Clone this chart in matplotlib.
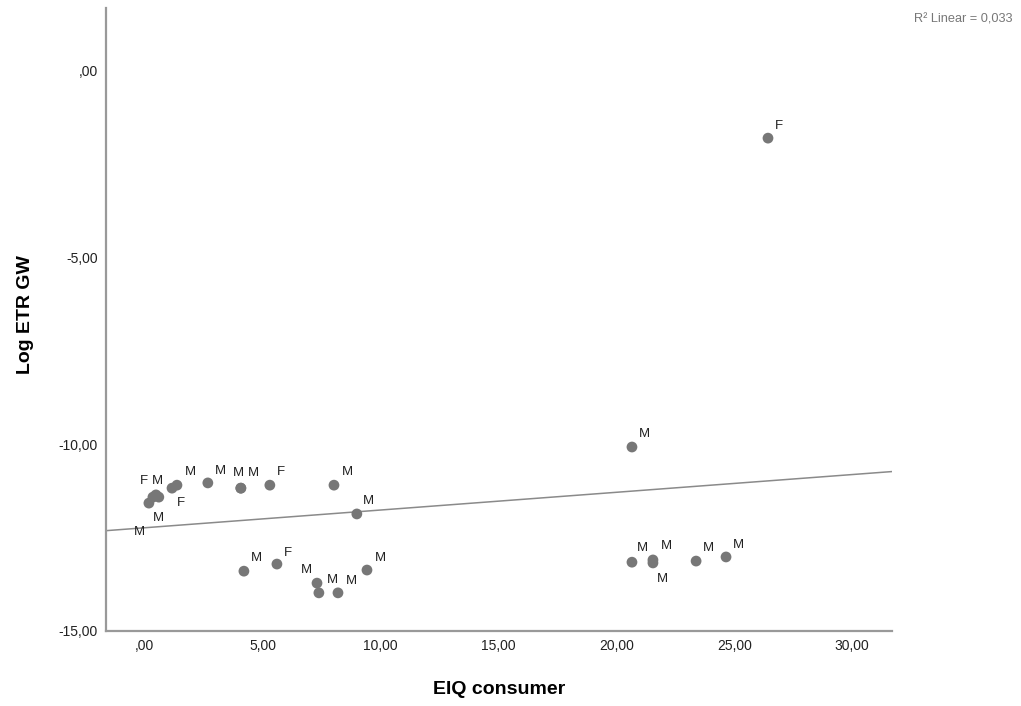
import matplotlib
matplotlib.use("Agg")
import matplotlib.pyplot as plt
from matplotlib.ticker import FixedLocator, FuncFormatter
import numpy as np

plt.rcParams['font.family'] = ['Liberation Sans', 'DejaVu Sans']

# EIQ consumer vs log ETR groundwater, one point per sample
eiq_consumer = [0.17, 0.34, 0.47, 0.59, 1.15, 1.36, 2.67, 4.07, 4.07, 5.30, 8.02, 8.99,
                4.20, 5.60, 7.30, 7.38, 8.19, 9.42,
                20.66, 20.66, 21.55, 21.55, 23.38, 24.65, 26.43]
log_etr_gw = [-11.58, -11.42, -11.36, -11.42, -11.18, -11.10, -11.04, -11.18, -11.18, -11.10, -11.10, -11.87,
              -13.40, -13.21, -13.72, -13.98, -13.98, -13.37,
              -10.08, -13.16, -13.10, -13.18, -13.13, -13.02, -1.82]
sex = ['M', 'F', 'M', 'M', 'F', 'M', 'M', 'M', 'M', 'F', 'M', 'M',
       'M', 'F', 'M', 'M', 'M', 'M',
       'M', 'M', 'M', 'M', 'M', 'M', 'F']
x_ticks = [0, 5, 10, 15, 20, 25, 30]
y_ticks = [-15, -10, -5, 0]
r2_text = "R\u00b2 Linear = 0,033"

# where each case label sits relative to its dot (pixels, y up)
label_offsets = [(-9, -29), (-9, 16), (2, -23), (-1, 16), (9, -15), (13, 13), (13, 12),
                 (-2, 15), (13, 15), (11, 13), (13, 13), (12, 13),
                 (13, 13), (11, 11), (-11, 13), (14, 13), (13, 12), (13, 12),
                 (12, 13), (10, 14), (13, 14), (9, -16), (12, 13), (12, 12), (11, 12)]

fig = plt.figure(figsize=(10.21, 7.06), dpi=100)
ax = fig.add_axes([106 / 1021, 1 - 631 / 706, 786 / 1021, 623 / 706])

ax.scatter(eiq_consumer, log_etr_gw, s=60, color='#777777', edgecolors='none', zorder=3)
for x, y, lab, off in zip(eiq_consumer, log_etr_gw, sex, label_offsets):
    ax.annotate(lab, xy=(x, y), xytext=off, textcoords='offset pixels',
                ha='center', va='center', fontsize=9.5, color='#222222', zorder=4)

xlim = (-1.65, 31.69)
ylim = (-15, 1.66)
slope, intercept = np.polyfit(eiq_consumer, log_etr_gw, 1)
xs = np.array(xlim)
ax.plot(xs, intercept + slope * xs, color='#8a8a8a', lw=1.1, zorder=2)

ax.set_xlim(*xlim)
ax.set_ylim(*ylim)

def spss_fmt(v, pos):
    s = f"{v:.2f}".replace('.', ',')
    if s.startswith('0,'):
        s = s[1:]
    return s

ax.xaxis.set_major_locator(FixedLocator(x_ticks))
ax.yaxis.set_major_locator(FixedLocator(y_ticks))
ax.xaxis.set_major_formatter(FuncFormatter(spss_fmt))
ax.yaxis.set_major_formatter(FuncFormatter(spss_fmt))
ax.tick_params(length=0, labelsize=10, labelcolor='#222222')
ax.tick_params(axis='x', pad=6)
ax.tick_params(axis='y', pad=6)

for side in ('top', 'right'):
    ax.spines[side].set_visible(False)
for side in ('left', 'bottom'):
    ax.spines[side].set_color('#999999')
    ax.spines[side].set_linewidth(1.6)

ax.set_xlabel('EIQ consumer', fontsize=14, fontweight='bold')
ax.set_ylabel('Log ETR GW', fontsize=14, fontweight='bold')
ax.xaxis.set_label_coords(0.5, -59 / 623, transform=ax.transAxes)
ax.yaxis.set_label_coords(-81 / 786, 316 / 623, transform=ax.transAxes)
ax.xaxis.label.set_va('center')
ax.yaxis.label.set_va('center')

fig.text(1012 / 1021, 1 - 20 / 706, r2_text, ha='right', va='center', fontsize=9.2, color='#777777')

plt.savefig('out.png', dpi=100)
